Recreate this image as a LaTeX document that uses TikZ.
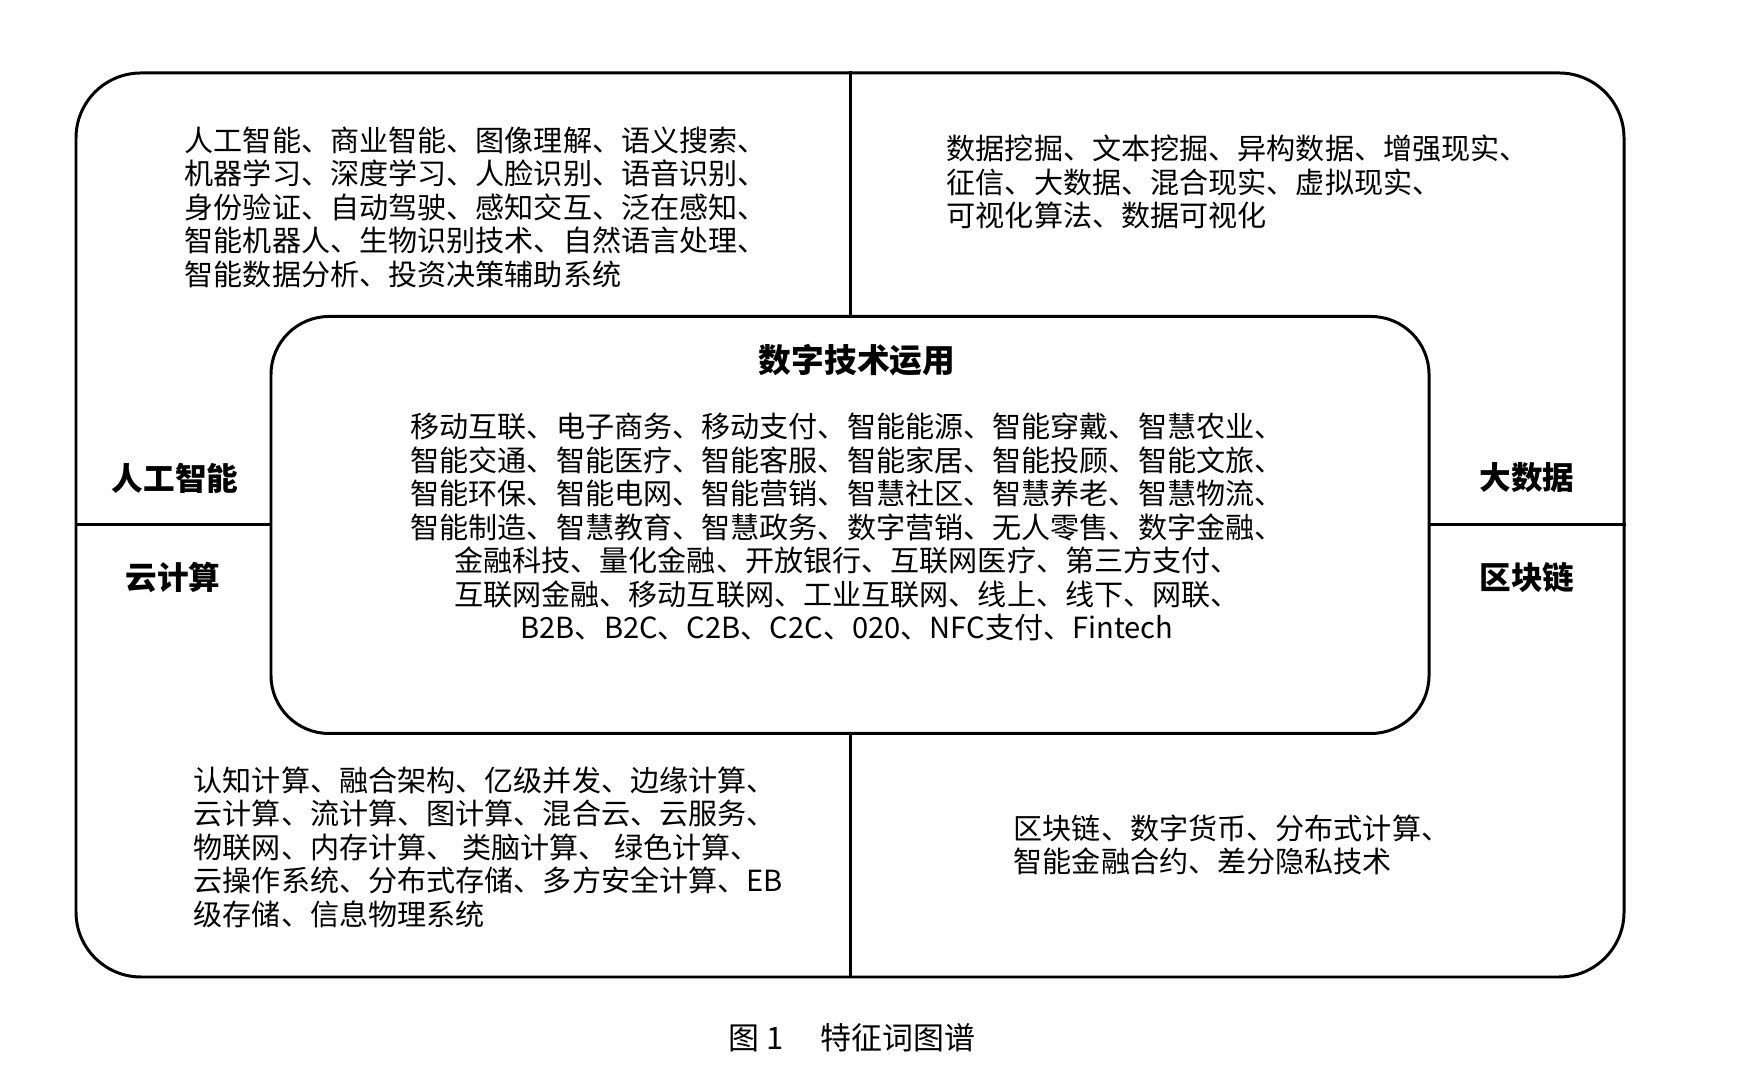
\documentclass[tikz,border=0pt]{standalone}
\usepackage{fontspec}
\newfontfamily\cjk{Noto Sans CJK SC}
\tikzset{
  frame/.style={draw, line width=0.85pt},
  words/.style={font=\cjk\fontsize{8.28pt}{9.53pt}\selectfont, inner sep=0pt},
  field/.style={font=\cjk\bfseries\fontsize{9pt}{10pt}\selectfont, inner sep=0pt},
}
\begin{document}
\begin{tikzpicture}
\useasboundingbox (0,0) rectangle (17.5,10.89);
% vnejsi ramec a stredni pole
\node[frame, rounded corners=0.65cm, minimum width=15.48cm, minimum height=9.04cm] (outer) at (8.50,5.64) {};
\draw[frame] (outer.north) -- (outer.south);
\draw[frame] (outer.west) -- (outer.east);
\node[frame, fill=white, rounded corners=0.58cm, minimum width=11.58cm, minimum height=4.17cm] (core) at (outer.center) {};
% nazvy ctyr oblasti
\foreach \n/\x/\y/\t in {ai/1.75/6.11/人工智能, cloud/1.73/5.12/云计算, bigdata/15.27/6.11/大数据, chain/15.27/5.12/区块链}
  \node[field] (\n) at (\x,\y) {\t};
\node[field, font=\cjk\bfseries\fontsize{9.3pt}{10pt}\selectfont] (title) at (8.57,7.29) {数字技术运用};
% klicova slova
\node[words, align=left, anchor=west] (aiwords) at (1.84,8.82) {人工智能、商业智能、图像理解、语义搜索、\\机器学习、深度学习、人脸识别、语音识别、\\身份验证、自动驾驶、感知交互、泛在感知、\\智能机器人、生物识别技术、自然语言处理、\\智能数据分析、投资决策辅助系统};
\node[words, align=left, anchor=west] (bdwords) at (9.46,9.07) {数据挖掘、文本挖掘、异构数据、增强现实、\\征信、大数据、混合现实、虚拟现实、\\可视化算法、数据可视化};
\node[words, align=left, anchor=west] (cloudwords) at (1.93,2.42) {认知计算、融合架构、亿级并发、边缘计算、\\云计算、流计算、图计算、混合云、云服务、\\物联网、内存计算、 类脑计算、 绿色计算、\\云操作系统、分布式存储、多方安全计算、EB\\级存储、信息物理系统};
\node[words, align=left, anchor=west] (chainwords) at (10.13,2.44) {区块链、数字货币、分布式计算、\\智能金融合约、差分隐私技术};
\node[words, align=center] (corewords) at (8.47,5.62) {移动互联、电子商务、移动支付、智能能源、智能穿戴、智慧农业、\\智能交通、智能医疗、智能客服、智能家居、智能投顾、智能文旅、\\智能环保、智能电网、智能营销、智慧社区、智慧养老、智慧物流、\\智能制造、智慧教育、智慧政务、数字营销、无人零售、数字金融、\\金融科技、量化金融、开放银行、互联网医疗、第三方支付、\\互联网金融、移动互联网、工业互联网、线上、线下、网联、\\B2B、B2C、C2B、C2C、020、NFC支付、Fintech};
% popisek
\node[words, font=\cjk\fontsize{8.8pt}{10pt}\selectfont] (caption) at (8.52,0.51) {图 1\hspace{1.2em}特征词图谱};
\end{tikzpicture}
\end{document}
